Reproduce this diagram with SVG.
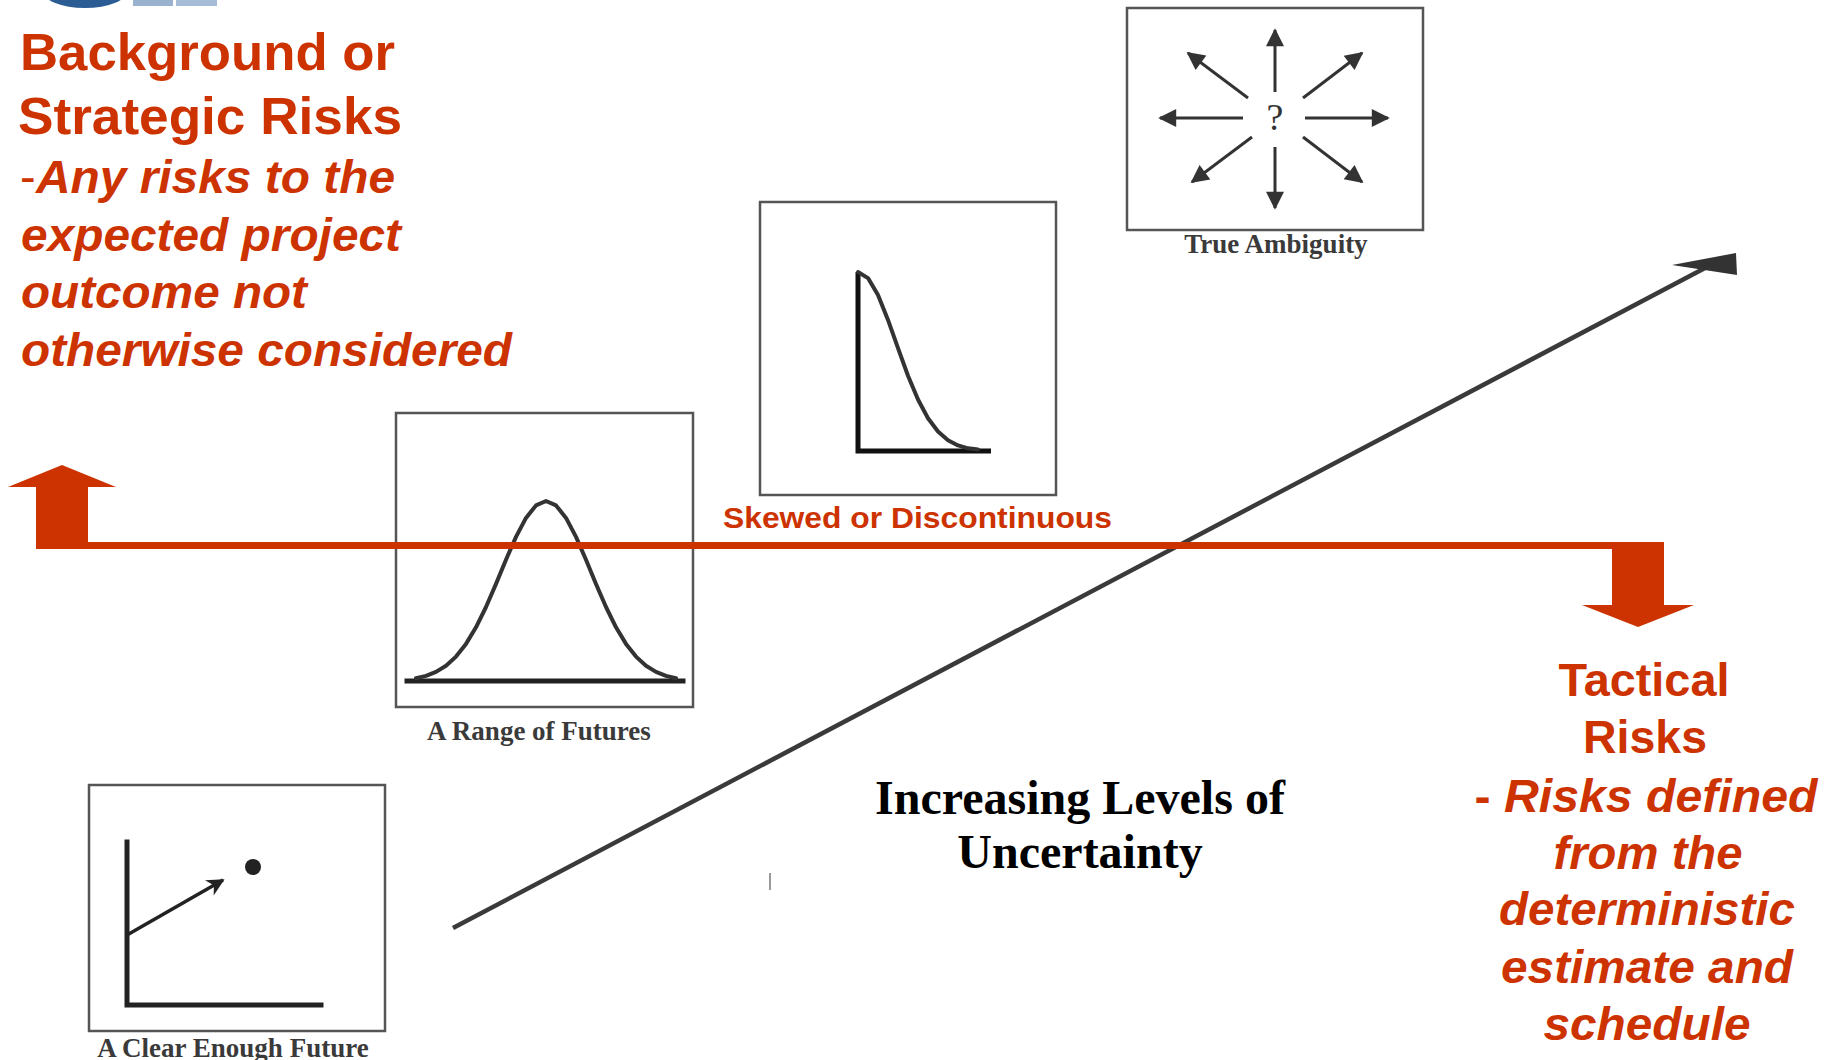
<svg xmlns="http://www.w3.org/2000/svg" width="1834" height="1060" viewBox="0 0 1834 1060">
<style>
.red{fill:#cc3300;font-family:"Liberation Sans",Arial,sans-serif;font-weight:bold}
.it{font-style:italic}
.cap{fill:#3a3a3a;font-family:"Liberation Serif","Times New Roman",serif;font-weight:bold;font-size:27px;text-anchor:middle}
.box{fill:#fff;stroke:#555;stroke-width:2.5}
.ax{stroke:#222;stroke-width:5;fill:none;stroke-linecap:square}
.crv{stroke:#333;stroke-width:4;fill:none;stroke-linejoin:round;stroke-linecap:round}
.amb{stroke:#333;stroke-width:3;fill:none}
</style>
<defs>
<marker id="ah" viewBox="0 0 10 10" refX="9" refY="5" markerWidth="7" markerHeight="6" markerUnits="strokeWidth" orient="auto">
<path d="M0,0 L10,5 L0,10 Z" fill="#333"/>
</marker>
<marker id="ah2" viewBox="0 0 10 10" refX="9" refY="5" markerWidth="6" markerHeight="5" markerUnits="strokeWidth" orient="auto">
<path d="M0,0 L10,5 L0,10 L3,5 Z" fill="#222"/>
</marker>
</defs>
<rect width="1834" height="1060" fill="#fff"/>

<g id="logo">
<ellipse cx="85" cy="-10" rx="43" ry="18" fill="#2b5c94"/>
<rect x="133" y="0" width="40" height="6" fill="#9ab2cf"/>
<rect x="176" y="0" width="41" height="6" fill="#a6bcd6"/>
</g>

<g id="strategic-text" class="red">
<text x="20" y="70" font-size="52" textLength="375" lengthAdjust="spacingAndGlyphs">Background or</text>
<text x="18" y="134" font-size="52" textLength="384" lengthAdjust="spacingAndGlyphs">Strategic Risks</text>
<text x="20" y="193" font-size="47"><tspan font-weight="normal">-</tspan><tspan class="it" x="36" textLength="359" lengthAdjust="spacingAndGlyphs">Any risks to the</tspan></text>
<text x="21" y="251" font-size="47" class="it" textLength="380" lengthAdjust="spacingAndGlyphs">expected project</text>
<text x="21" y="308" font-size="47" class="it" textLength="286" lengthAdjust="spacingAndGlyphs">outcome not</text>
<text x="21" y="366" font-size="47" class="it" textLength="491" lengthAdjust="spacingAndGlyphs">otherwise considered</text>
</g>

<g id="tactical-text" class="red" text-anchor="middle">
<text x="1644" y="696" font-size="47" textLength="171" lengthAdjust="spacingAndGlyphs">Tactical</text>
<text x="1645" y="753" font-size="47" textLength="124" lengthAdjust="spacingAndGlyphs">Risks</text>
<text x="1646" y="812" font-size="47" textLength="343" lengthAdjust="spacingAndGlyphs">- <tspan class="it">Risks defined</tspan></text>
<text x="1648" y="869" font-size="47" class="it" textLength="189" lengthAdjust="spacingAndGlyphs">from the</text>
<text x="1647" y="925" font-size="47" class="it" textLength="296" lengthAdjust="spacingAndGlyphs">deterministic</text>
<text x="1647" y="983" font-size="47" class="it" textLength="292" lengthAdjust="spacingAndGlyphs">estimate and</text>
<text x="1647" y="1040" font-size="47" class="it" textLength="207" lengthAdjust="spacingAndGlyphs">schedule</text>
</g>

<g id="node-clear">
<rect class="box" x="89" y="785" width="296" height="246"/>
<path class="ax" d="M127,842 V1005 H321"/>
<line x1="127" y1="935" x2="223" y2="880" stroke="#222" stroke-width="3.5" marker-end="url(#ah2)"/>
<circle cx="253" cy="867" r="8" fill="#222"/>
<text class="cap" x="233" y="1057">A Clear Enough Future</text>
</g>

<g id="node-range">
<rect class="box" x="396" y="413" width="297" height="294"/>
<line class="ax" x1="407" y1="681" x2="683" y2="681" stroke="#333"/>
<polyline class="crv" points="416,678.2 426,675.9 436,671.9 446,665.8 456,656.6 466,643.9 476,627.3 486,607 496,583.9 506,559.7 516,536.9 526,517.9 536,505.4 546,501 556,505.4 566,517.9 576,536.9 586,559.7 596,583.9 606,607 616,627.3 626,643.9 636,656.6 646,665.8 656,671.9 666,675.9 676,678.2"/>
<text class="cap" x="539" y="740">A Range of Futures</text>
</g>

<g id="node-skewed">
<rect class="box" x="760" y="202" width="296" height="293"/>
<path d="M858,272 V451 H991" stroke="#111" stroke-width="5" fill="none"/>
<polyline class="crv" points="858,272 868,278.1 878,295.1 888,319.9 898,348.1 908,375.7 918,399.5 928,418.2 938,431.5 948,440.2 958,445.4 968,448.3 978,449.6"/>
<text class="red" x="723" y="528" font-size="30" textLength="389" lengthAdjust="spacingAndGlyphs">Skewed or Discontinuous</text>
</g>

<g id="node-ambiguity">
<rect class="box" x="1127" y="8" width="296" height="222"/>
<text x="1275" y="130" font-family="'Liberation Serif','Times New Roman',serif" font-size="38" fill="#333" text-anchor="middle">?</text>
<g class="amb" marker-end="url(#ah)">
<line x1="1275" y1="92" x2="1275" y2="30"/>
<line x1="1275" y1="147" x2="1275" y2="208"/>
<line x1="1243" y1="118" x2="1160" y2="118"/>
<line x1="1305" y1="118" x2="1388" y2="118"/>
<line x1="1248" y1="98" x2="1188" y2="53"/>
<line x1="1303" y1="98" x2="1362" y2="53"/>
<line x1="1252" y1="137" x2="1192" y2="182"/>
<line x1="1303" y1="137" x2="1362" y2="182"/>
</g>
<text class="cap" x="1276" y="253">True Ambiguity</text>
</g>

<g id="node-uncertainty-label" font-family="'Liberation Serif','Times New Roman',serif" font-weight="bold" font-size="48" fill="#000" text-anchor="middle">
<text x="1080" y="814">Increasing Levels of</text>
<text x="1080" y="868">Uncertainty</text>
</g>

<g id="connectors">
<line x1="453" y1="928" x2="1705" y2="268" stroke="#3a3a3a" stroke-width="4.5"/>
<polygon points="1672,265 1736,253 1737,275" fill="#333"/>
<line x1="770" y1="873" x2="770" y2="890" stroke="#999" stroke-width="2"/>
<polygon fill="#cc3300" points="36,549 36,487 8,487 62,465 116,487 88,487 88,542 1664,542 1664,605 1694,605 1638,627 1582,605 1612,605 1612,549 44,549"/>
</g>
</svg>
